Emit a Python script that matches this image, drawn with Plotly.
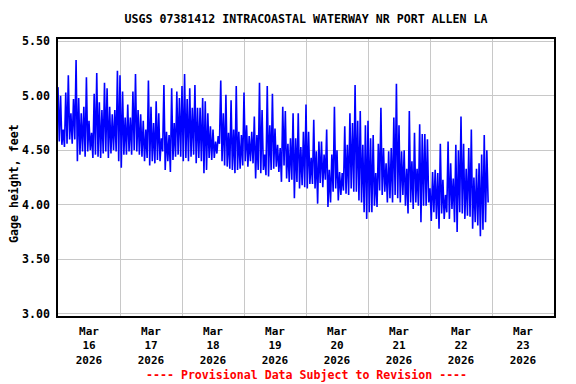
import pandas as pd
import plotly.graph_objects as go

# Hourly envelope (feet): hourly high and low gage height
highs = [
    5.08, 5.00, 4.69, 5.03, 5.19, 4.84, 4.97, 5.33, 4.98, 4.84, 4.90, 5.17, 4.77, 4.66, 5.02, 5.21,
    4.94, 4.87, 5.12, 5.07, 4.90, 4.83, 4.87, 5.23, 5.19, 5.04, 4.80, 4.92, 4.80, 5.04, 5.20, 4.87,
    4.83, 4.77, 4.69, 5.14, 4.90, 4.75, 4.95, 4.84, 4.61, 5.10, 4.67, 4.64, 5.07, 4.75, 5.04, 4.98,
    5.09, 5.20, 4.97, 5.07, 4.89, 5.10, 4.89, 4.89, 4.98, 4.95, 4.84, 4.72, 4.69, 4.58, 4.63, 5.14,
    4.84, 5.01, 4.66, 4.96, 4.69, 5.09, 4.67, 4.64, 5.03, 4.73, 4.63, 4.67, 4.81, 4.64, 5.12, 4.87,
    4.46, 5.09, 4.73, 5.02, 4.70, 4.55, 4.52, 4.90, 4.86, 4.56, 4.61, 4.84, 4.61, 4.84, 4.53, 4.67,
    4.92, 4.67, 4.43, 4.78, 4.49, 4.58, 4.58, 4.46, 4.69, 4.32, 4.46, 4.90, 4.50, 4.30, 4.29, 4.72,
    4.55, 4.84, 4.75, 5.10, 4.77, 4.86, 4.55, 4.73, 4.77, 4.61, 4.64, 4.29, 4.56, 4.89, 4.52, 4.38,
    4.49, 4.52, 4.80, 5.11, 4.73, 4.49, 4.50, 4.33, 4.86, 4.40, 4.66, 4.33, 4.74, 4.65, 4.65, 4.60,
    4.15, 4.30, 4.32, 4.29, 4.56, 4.23, 4.09, 4.58, 4.38, 4.24, 4.55, 4.50, 4.81, 4.56, 4.33, 4.52,
    4.69, 4.25, 4.33, 4.38, 4.46, 4.64, 4.50,
]
lows = [
    4.58, 4.55, 4.53, 4.56, 4.60, 4.56, 4.60, 4.40, 4.46, 4.49, 4.44, 4.49, 4.50, 4.43, 4.46, 4.44,
    4.43, 4.47, 4.49, 4.43, 4.47, 4.50, 4.49, 4.40, 4.34, 4.46, 4.46, 4.49, 4.46, 4.50, 4.49, 4.46,
    4.44, 4.40, 4.43, 4.36, 4.40, 4.38, 4.41, 4.40, 4.49, 4.32, 4.40, 4.30, 4.41, 4.44, 4.46, 4.44,
    4.40, 4.43, 4.40, 4.44, 4.46, 4.38, 4.43, 4.40, 4.29, 4.32, 4.43, 4.41, 4.43, 4.47, 4.56, 4.40,
    4.36, 4.35, 4.33, 4.32, 4.29, 4.32, 4.33, 4.36, 4.40, 4.35, 4.40, 4.38, 4.24, 4.32, 4.29, 4.32,
    4.27, 4.26, 4.32, 4.33, 4.35, 4.30, 4.21, 4.36, 4.24, 4.21, 4.23, 4.06, 4.21, 4.15, 4.18, 4.16,
    4.15, 4.19, 4.19, 4.15, 4.01, 4.20, 4.16, 4.23, 3.98, 4.02, 4.12, 4.15, 4.04, 4.09, 4.13, 4.10,
    4.09, 4.15, 4.12, 4.12, 4.04, 4.02, 3.93, 3.87, 3.93, 3.93, 3.99, 3.98, 4.13, 4.09, 4.12, 4.02,
    4.06, 4.02, 4.09, 4.06, 4.02, 4.09, 3.99, 3.92, 4.02, 3.96, 4.02, 3.99, 3.84, 3.99, 3.99, 4.02,
    3.85, 3.93, 3.87, 3.78, 3.92, 3.87, 3.93, 3.87, 3.96, 3.84, 3.75, 3.93, 3.92, 3.87, 3.90, 3.89,
    3.78, 3.84, 3.81, 3.71, 3.77, 3.84, 4.02,
]

start = "2026-03-16 00:00"
x_range = ["2026-03-16 00:00", "2026-03-24 00:00"]
tick_month = "Mar"
tick_days = ["16", "17", "18", "19", "20", "21", "22", "23"]
tick_year = "2026"
y_ticks = [3.00, 3.50, 4.00, 4.50, 5.00, 5.50]
title_text = "USGS 07381412 INTRACOASTAL WATERWAY NR PORT ALLEN LA"
y_title = "Gage height, feet"
footer = "---- Provisional Data Subject to Revision ----"

base = pd.Timestamp(start)
times, values = [], []
for i, (hi, lo) in enumerate(zip(highs, lows)):
    times.append(base + pd.Timedelta(hours=i))
    values.append(hi)
    times.append(base + pd.Timedelta(hours=i, minutes=30))
    values.append(lo)

day_noons = [base + pd.Timedelta(days=k, hours=12) for k in range(len(tick_days))]
midnights = [base + pd.Timedelta(days=k) for k in range(1, 8)]
tick_text = [f"{tick_month}<br>{d}<br>{tick_year}" for d in tick_days]

FONT = "DejaVu Sans Mono"

# The page body has an 8px default margin, so the figure is sized 8px smaller
W, H = 568, 376
L, T, PW, PH = 50, 31, 496, 277

fig = go.Figure()
fig.add_trace(go.Scatter(
    x=times, y=values, mode="lines",
    line=dict(color="#0000ff", width=1.6),
    hoverinfo="skip", showlegend=False,
))

fig.update_layout(
    width=W, height=H,
    margin=dict(l=L, r=W - L - PW, t=T, b=H - T - PH, pad=0),
    paper_bgcolor="white", plot_bgcolor="white",
    title=dict(text=title_text, x=(L + PW / 2) / W, xanchor="center", y=1 - 11 / H, yanchor="middle",
               font=dict(family=FONT, size=11.6, color="black", weight="bold")),
    xaxis=dict(
        type="date", range=x_range,
        tickmode="array", tickvals=day_noons, ticktext=tick_text,
        showgrid=False, ticks="outside", ticklen=4, tickcolor="rgba(0,0,0,0)",
        tickfont=dict(family=FONT, size=11, color="black", weight="bold"),
        minor=dict(tickmode="array", tickvals=midnights, showgrid=True,
                   gridcolor="#c8c8c8", gridwidth=1, ticks=""),
        showline=True, linecolor="black", linewidth=1.5, mirror=True,
        zeroline=False,
    ),
    yaxis=dict(
        range=[2.978, 5.522],
        tickmode="array", tickvals=y_ticks, ticktext=[f"{v:.2f}" for v in y_ticks],
        showgrid=True, gridcolor="#c8c8c8", gridwidth=1,
        ticks="outside", ticklen=4, tickcolor="rgba(0,0,0,0)",
        tickfont=dict(family=FONT, size=11.6, color="black", weight="bold"),
        showline=True, linecolor="black", linewidth=1.5, mirror=True,
        zeroline=False,
    ),
)

fig.add_annotation(
    text=y_title, xref="paper", yref="paper",
    x=(6 - L) / PW, y=(T + PH - 176) / PH, xanchor="center", yanchor="middle",
    textangle=-90, showarrow=False, borderpad=0,
    font=dict(family=FONT, size=11.6, color="black", weight="bold"),
)
fig.add_annotation(
    text=footer, xref="paper", yref="paper",
    x=0.5, y=(T + PH - 367) / PH, xanchor="center", yanchor="middle",
    showarrow=False,
    font=dict(family=FONT, size=11.6, color="red", weight="bold"),
)

fig.write_html("out.html")
